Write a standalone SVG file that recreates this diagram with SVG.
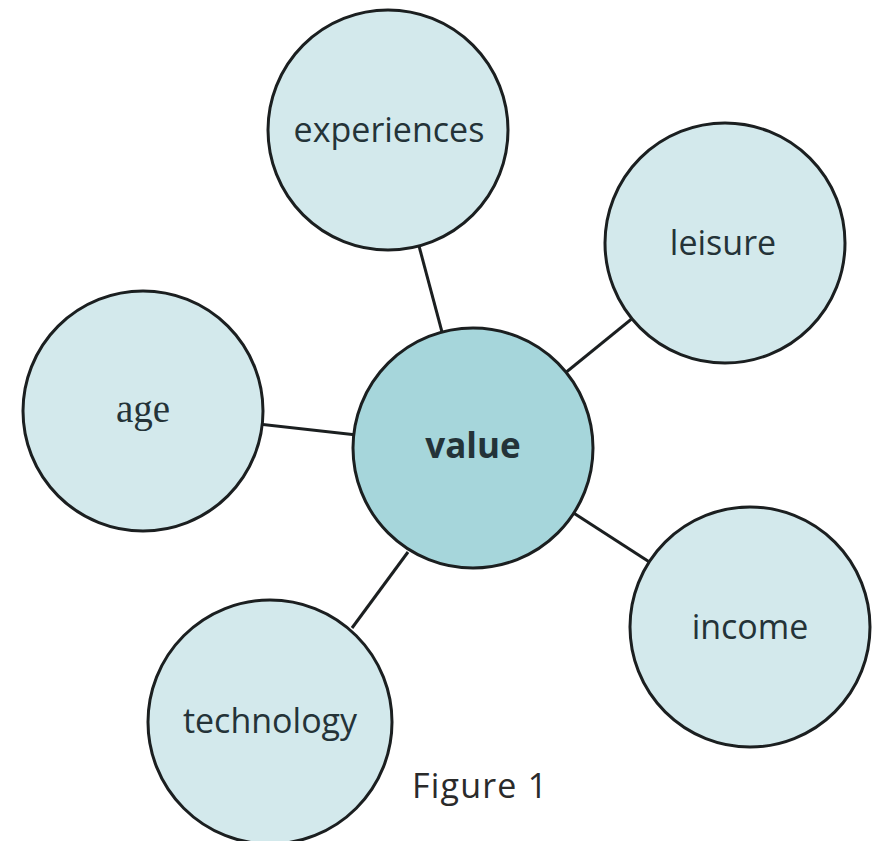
<svg xmlns="http://www.w3.org/2000/svg" width="876" height="841" viewBox="0 0 876 841">
  <style>
    .edge { stroke: #1b1f20; stroke-width: 3; fill: none; }
    .outer { fill: #d3e9ec; stroke: #1b1f20; stroke-width: 3; }
    .center { fill: #a6d6db; stroke: #1b1f20; stroke-width: 3; }
    .lbl { font-family: "Open Sans", "Noto Sans", sans-serif; font-size: 34px; fill: #243338; text-anchor: middle; }
    .serif { font-family: "Liberation Serif", "DejaVu Serif", serif; font-size: 39px; fill: #243338; text-anchor: middle; }
    .bold { font-weight: bold; font-size: 35px; }
    .cap { font-family: "Open Sans", "Noto Sans", sans-serif; font-size: 34px; letter-spacing: 1.2px; fill: #2a2a2a; }
  </style>
  <rect width="876" height="841" fill="#ffffff"/>
  <g id="connectors">
    <line class="edge" x1="473" y1="448" x2="388" y2="130"/>
    <line class="edge" x1="473" y1="448" x2="725" y2="243"/>
    <line class="edge" x1="473" y1="448" x2="143" y2="411"/>
    <line class="edge" x1="473" y1="448" x2="750" y2="627"/>
    <line class="edge" x1="408" y1="552" x2="352" y2="628"/>
  </g>
  <g id="node-experiences">
    <circle class="outer" cx="388" cy="130" r="120"/>
    <text class="lbl" x="389" y="142">experiences</text>
  </g>
  <g id="node-leisure">
    <circle class="outer" cx="725" cy="243" r="120"/>
    <text class="lbl" x="723" y="255">leisure</text>
  </g>
  <g id="node-age">
    <circle class="outer" cx="143" cy="411" r="120"/>
    <text class="serif" x="143" y="422">age</text>
  </g>
  <g id="node-value">
    <circle class="center" cx="473" cy="448" r="120"/>
    <text class="lbl bold" x="473" y="458">value</text>
  </g>
  <g id="node-income">
    <circle class="outer" cx="750" cy="627" r="120"/>
    <text class="lbl" x="750" y="639">income</text>
  </g>
  <g id="node-technology">
    <circle class="outer" cx="270" cy="722" r="122"/>
    <text class="lbl" x="270" y="733">technology</text>
  </g>
  <text class="cap" x="412" y="798">Figure 1</text>
</svg>
